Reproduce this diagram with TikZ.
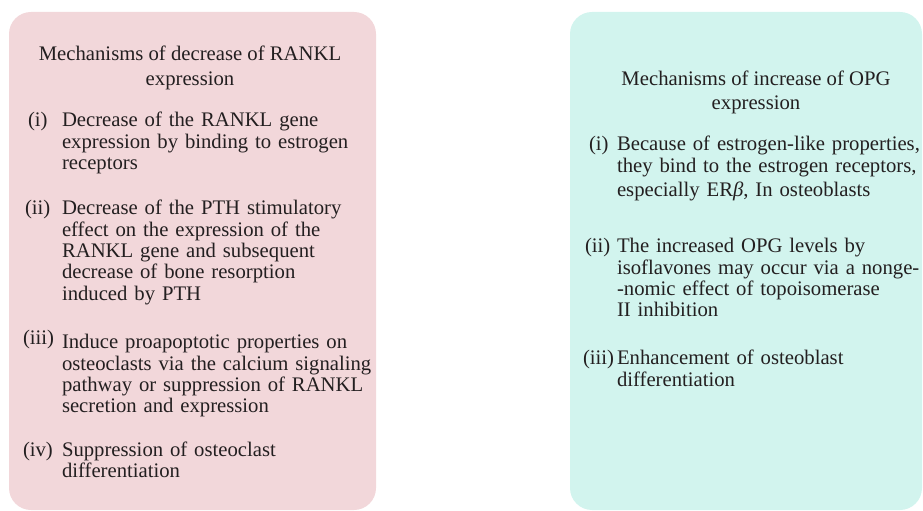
\documentclass[tikz,border=0pt]{standalone}
\usepackage{fontspec}
\setmainfont{Liberation Serif}
\definecolor{pinkbox}{RGB}{242,215,218}
\definecolor{cyanbox}{RGB}{210,244,238}
\definecolor{ink}{RGB}{35,31,32}
\newcommand{\bodyfont}{\fontsize{20.7bp}{21.3bp}\selectfont}
\tikzset{
  panel/.style={rounded corners=22bp, draw=none},
  itemtext/.style={anchor=base west, inner sep=0pt, outer sep=0pt, align=left,
    text width=330bp, text=ink, font=\bodyfont},
  itemlabel/.style={anchor=base west, inner sep=0pt, outer sep=0pt, text=ink, font=\bodyfont},
  titleline/.style={anchor=base, inner sep=0pt, outer sep=0pt, text=ink, font=\bodyfont}
}
\begin{document}
\begin{tikzpicture}[x=1bp,y=-1bp]
\useasboundingbox (0,0) rectangle (923,511);
% panels
\fill[panel, pinkbox] (9,12) rectangle (376,510);
\fill[panel, cyanbox] (570,12) rectangle (922,510);

% left title
\node[titleline] (lt1) at (190,61) {Mechanisms of decrease of RANKL};
\node[titleline] (lt2) at (190,86) {expression};

% left items
\node[itemlabel] (li) at (28,127) {(i)};
\node[itemtext] (lit) at (62,127) {Decrease of the RANKL gene\\expression by binding to estrogen\\receptors};

\node[itemlabel] (lii) at (25,215) {(ii)};
\node[itemtext] (liit) at (62,215) {Decrease of the PTH stimulatory\\effect on the expression of the\\RANKL gene and subsequent\\decrease of bone resorption\\induced by PTH};

\node[itemlabel] (liii) at (23,345) {(iii)};
\node[itemtext] (liiit) at (62,349) {Induce proapoptotic properties on\\osteoclasts via the calcium signaling\\pathway or suppression of RANKL\\secretion and expression};

\node[itemlabel] (liv) at (23,456) {(iv)};
\node[itemtext] (livt) at (62,456) {Suppression of osteoclast\\differentiation};

% right title
\node[titleline] (rt1) at (756,86) {Mechanisms of increase of OPG};
\node[titleline] (rt2) at (756,110) {expression};

% right items
\node[itemlabel] (ri) at (589,151) {(i)};
\node[itemtext] (rit) at (617,151) {Because of estrogen-like properties,\\they bind to the estrogen receptors,\\[3bp]especially ER\textit{β}, In osteoblasts};

\node[itemlabel] (rii) at (585,253) {(ii)};
\node[itemtext] (riit) at (617,253) {The increased OPG levels by\\isoflavones may occur via a nonge-\\-nomic effect of topoisomerase\\II inhibition};

\node[itemlabel] (riii) at (583,365) {(iii)};
\node[itemtext] (riiit) at (617,365) {Enhancement of osteoblast\\differentiation};
\end{tikzpicture}
\end{document}
